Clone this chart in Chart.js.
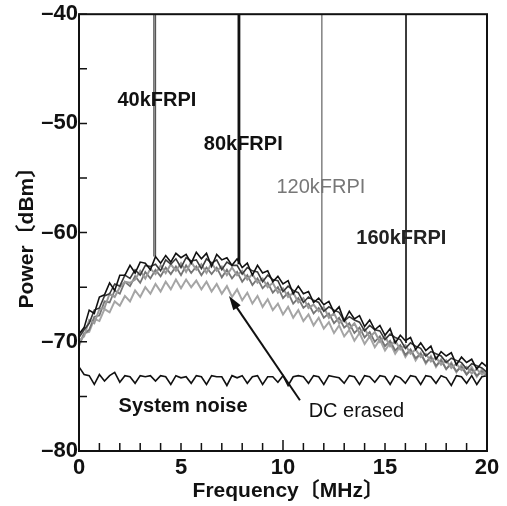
<!DOCTYPE html>
<html>
<head>
<meta charset="utf-8">
<script src="https://cdn.jsdelivr.net/npm/chart.js@4"></script>
<style>
  body { margin: 0; background: #fff; }
  #wrap { width: 507px; height: 506px; }
</style>
</head>
<body>
<div id="wrap"><canvas id="spectrumChart" width="507" height="506"></canvas></div>
<script>
// FREQUENCY AXIS (MHz)
const freq = [
  0, 0.25, 0.5, 0.75, 1, 1.25, 1.5, 1.75, 2, 2.25, 2.5, 2.75, 3, 3.25, 3.5, 3.75,
  4, 4.25, 4.5, 4.75, 5, 5.25, 5.5, 5.75, 6, 6.25, 6.5, 6.75, 7, 7.25, 7.5, 7.75,
  8, 8.25, 8.5, 8.75, 9, 9.25, 9.5, 9.75, 10, 10.25, 10.5, 10.75, 11, 11.25, 11.5, 11.75,
  12, 12.25, 12.5, 12.75, 13, 13.25, 13.5, 13.75, 14, 14.25, 14.5, 14.75, 15, 15.25, 15.5, 15.75,
  16, 16.25, 16.5, 16.75, 17, 17.25, 17.5, 17.75, 18, 18.25, 18.5, 18.75, 19, 19.25, 19.5, 19.75, 20
];

// POWER (dBm)
const p40k = [
  -69.3, -68.7, -67.1, -67.4, -65.9, -65.7, -64.6, -65.3, -63.9, -63.9, -63.0, -63.7, -62.7, -62.8, -63.4, -62.2,
  -62.8, -62.1, -62.7, -61.9, -62.3, -62.0, -62.8, -61.8, -62.4, -61.9, -63.1, -62.0, -62.5, -62.3, -63.0, -62.4,
  -63.2, -62.8, -63.9, -63.0, -63.7, -63.5, -64.5, -64.0, -64.7, -64.4, -65.6, -64.9, -65.6, -65.4, -66.4, -66.0,
  -66.6, -66.3, -67.3, -66.8, -68.1, -67.2, -67.9, -67.6, -68.6, -68.0, -68.9, -68.5, -69.4, -68.8, -70.1, -69.4,
  -69.9, -69.6, -70.7, -70.1, -70.8, -70.4, -71.6, -70.9, -71.3, -71.0, -72.1, -71.4, -71.9, -71.6, -72.5, -71.9, -72.3
];
const p80k = [
  -69.6, -68.9, -68.3, -67.1, -66.9, -65.8, -65.6, -64.7, -64.9, -63.9, -64.2, -63.4, -63.9, -63.0, -63.1, -62.9,
  -63.5, -62.5, -62.9, -62.4, -63.2, -62.3, -62.6, -62.5, -63.3, -62.4, -62.8, -62.5, -63.4, -62.7, -63.0, -63.0,
  -63.8, -63.2, -63.5, -63.6, -64.5, -63.9, -64.3, -64.4, -65.4, -64.9, -65.3, -65.5, -66.4, -65.9, -66.2, -66.4,
  -67.2, -66.8, -67.1, -67.3, -68.1, -67.7, -68.0, -68.2, -69.0, -68.5, -68.9, -69.0, -69.8, -69.3, -69.6, -69.8,
  -70.6, -70.1, -70.4, -70.6, -71.3, -70.9, -71.1, -71.3, -71.9, -71.5, -71.7, -71.9, -72.5, -72.0, -72.2, -72.4, -72.8
];
const p120k = [
  -69.9, -69.5, -68.0, -68.3, -67.0, -66.9, -65.6, -65.9, -65.0, -64.5, -64.6, -64.3, -63.5, -64.2, -63.3, -63.8,
  -63.0, -63.7, -62.9, -63.5, -62.8, -63.6, -62.7, -63.4, -62.9, -63.7, -62.8, -63.5, -63.1, -63.9, -63.2, -63.9,
  -63.5, -64.3, -63.8, -64.6, -64.2, -65.0, -64.6, -65.5, -65.1, -65.9, -65.5, -66.4, -66.0, -66.9, -66.6, -67.2,
  -66.8, -67.8, -67.4, -68.3, -67.9, -68.8, -68.3, -69.2, -68.8, -69.6, -69.1, -70.0, -69.5, -70.4, -69.9, -70.7,
  -70.3, -71.1, -70.7, -71.4, -71.1, -71.8, -71.4, -72.1, -71.7, -72.4, -72.0, -72.6, -72.3, -72.9, -72.5, -73.0, -72.7
];
const p160k = [
  -70.2, -69.3, -68.9, -67.7, -67.6, -66.3, -66.4, -65.3, -65.6, -64.5, -64.9, -64.0, -64.6, -63.6, -64.2, -63.4,
  -64.0, -63.2, -63.8, -63.1, -63.9, -63.0, -63.7, -63.1, -63.9, -63.2, -63.8, -63.2, -64.1, -63.4, -64.2, -63.6,
  -64.5, -63.9, -64.8, -64.2, -65.1, -64.6, -65.5, -65.0, -66.0, -65.5, -66.5, -66.0, -66.9, -66.5, -67.4, -66.9,
  -67.8, -67.4, -68.3, -67.8, -68.7, -68.3, -69.2, -68.7, -69.6, -69.1, -70.0, -69.5, -70.4, -69.9, -70.8, -70.3,
  -71.2, -70.7, -71.5, -71.1, -71.9, -71.4, -72.2, -71.7, -72.5, -72.0, -72.7, -72.3, -73.0, -72.5, -73.1, -72.7, -73.1
];
const pDCErased = [
  -70.4, -69.2, -69.1, -67.9, -68.1, -67.0, -67.3, -66.3, -66.7, -65.8, -66.3, -65.3, -65.9, -65.0, -65.6, -64.7,
  -65.4, -64.5, -65.2, -64.3, -65.1, -64.3, -65.0, -64.4, -65.2, -64.5, -65.4, -64.7, -65.6, -64.9, -65.9, -65.2,
  -66.2, -65.5, -66.5, -65.8, -66.8, -66.1, -67.1, -66.5, -67.5, -66.8, -67.8, -67.1, -68.1, -67.5, -68.5, -67.8,
  -68.8, -68.2, -69.2, -68.5, -69.5, -68.9, -69.9, -69.2, -70.2, -69.5, -70.5, -69.8, -70.8, -70.1, -71.1, -70.4,
  -71.4, -70.7, -71.7, -71.0, -72.0, -71.3, -72.3, -71.6, -72.5, -71.9, -72.8, -72.1, -73.0, -72.3, -73.2, -72.5, -73.1
];
const pSystemNoise = [
  -72.3, -73.0, -73.1, -73.9, -73.0, -73.6, -73.1, -72.8, -73.7, -73.1, -73.2, -73.8, -73.1, -73.2, -73.1, -73.6,
  -73.1, -73.2, -73.9, -73.1, -73.3, -73.2, -73.8, -73.1, -73.2, -73.9, -73.1, -73.2, -73.2, -74.0, -73.1, -73.3,
  -73.1, -73.8, -73.2, -73.1, -73.9, -73.2, -73.2, -73.7, -73.1, -74.0, -73.2, -73.1, -73.2, -73.8, -73.1, -73.2,
  -73.9, -73.1, -73.2, -73.3, -73.8, -73.1, -73.2, -73.9, -73.1, -73.2, -73.7, -73.1, -73.2, -73.9, -73.1, -73.3,
  -73.8, -73.1, -73.2, -73.9, -73.1, -73.2, -73.8, -73.1, -73.3, -74.0, -73.1, -73.2, -73.8, -73.1, -73.9, -73.2, -73.1
];

// FRPI SPIKES: frequency (MHz), foot level (dBm)
const spikeFreq = [3.71, 7.84, 11.9, 16.03];
const spikeBase = [-62.2, -62.9, -66.4, -70.1];
const spikeTop = -40;

// AXIS TICKS
const xTicks = [0, 5, 10, 15, 20];
const yTicks = [-80, -70, -60, -50, -40];

// look of each trace
const curveStyles = [
  { label: "40kFRPI", data: p40k, color: "#111111", width: 1.6 },
  { label: "80kFRPI", data: p80k, color: "#3a3a3a", width: 1.6 },
  { label: "120kFRPI", data: p120k, color: "#9a9a9a", width: 2 },
  { label: "160kFRPI", data: p160k, color: "#757575", width: 1.8 },
  { label: "DC erased", data: pDCErased, color: "#a5a5a5", width: 2 },
  { label: "System noise", data: pSystemNoise, color: "#111111", width: 1.6 }
];
const spikeStyles = [
  { half: 0.04, color: "#555555", width: 1.3 },
  { half: 0.03, color: "#111111", width: 1.6 },
  { half: 0.01, color: "#8a8a8a", width: 1.6 },
  { half: 0.01, color: "#333333", width: 1.5 }
];

// text and arrow drawn on top (data coordinates)
const notes = [
  { text: "40kFRPI", x: 3.82, y: -47.9, bold: true, color: "#111" },
  { text: "80kFRPI", x: 8.05, y: -51.9, bold: true, color: "#111" },
  { text: "120kFRPI", x: 11.86, y: -55.9, bold: false, color: "#777" },
  { text: "160kFRPI", x: 15.8, y: -60.5, bold: true, color: "#222" },
  { text: "System noise", x: 5.1, y: -75.9, bold: true, color: "#111" },
  { text: "DC erased", x: 13.6, y: -76.4, bold: false, color: "#111" }
];
const arrow = { fromX: 10.83, fromY: -75.35, toX: 7.35, toY: -65.8 };

const FONT = "'Liberation Sans', Arial, 'Noto Sans CJK JP', sans-serif";

const datasets = [];
curveStyles.forEach(function (c) {
  datasets.push({
    label: c.label,
    data: freq.map(function (f, i) { return { x: f, y: c.data[i] }; }),
    borderColor: c.color,
    borderWidth: c.width,
    pointRadius: 0,
    tension: 0,
    fill: false
  });
});
spikeFreq.forEach(function (f, i) {
  const s = spikeStyles[i];
  datasets.push({
    label: "spike " + i,
    data: [
      { x: f - s.half, y: spikeBase[i] },
      { x: f - s.half, y: spikeTop },
      { x: f + s.half, y: spikeTop },
      { x: f + s.half, y: spikeBase[i] }
    ],
    borderColor: s.color,
    borderWidth: s.width,
    pointRadius: 0,
    tension: 0,
    fill: false
  });
});

// frame, inward ticks, labels and arrow
const decorPlugin = {
  id: "decor",
  afterDatasetsDraw: function (chart) {
    const ctx = chart.ctx;
    const a = chart.chartArea;
    const xs = chart.scales.x;
    const ys = chart.scales.y;
    ctx.save();
    ctx.strokeStyle = "#111";
    ctx.lineWidth = 2;
    ctx.strokeRect(a.left, a.top, a.right - a.left, a.bottom - a.top);

    ctx.lineWidth = 1.5;
    ctx.beginPath();
    for (let f = 0; f <= 20; f++) {
      const px = xs.getPixelForValue(f);
      const len = (f % 10 === 0) ? 11 : 8;
      ctx.moveTo(px, a.bottom);
      ctx.lineTo(px, a.bottom - len);
    }
    for (let v = -80; v <= -40; v += 5) {
      const py = ys.getPixelForValue(v);
      ctx.moveTo(a.left, py);
      ctx.lineTo(a.left + 8, py);
    }
    ctx.stroke();

    ctx.textAlign = "center";
    ctx.textBaseline = "middle";
    notes.forEach(function (n) {
      ctx.font = (n.bold ? "bold " : "") + "20px " + FONT;
      ctx.fillStyle = n.color;
      ctx.fillText(n.text, xs.getPixelForValue(n.x), ys.getPixelForValue(n.y));
    });

    const x1 = xs.getPixelForValue(arrow.fromX), y1 = ys.getPixelForValue(arrow.fromY);
    const x2 = xs.getPixelForValue(arrow.toX), y2 = ys.getPixelForValue(arrow.toY);
    const ang = Math.atan2(y2 - y1, x2 - x1);
    const head = 15;
    ctx.strokeStyle = "#111";
    ctx.fillStyle = "#111";
    ctx.lineWidth = 2;
    ctx.beginPath();
    ctx.moveTo(x1, y1);
    ctx.lineTo(x2 - Math.cos(ang) * head * 0.8, y2 - Math.sin(ang) * head * 0.8);
    ctx.stroke();
    ctx.beginPath();
    ctx.moveTo(x2, y2);
    ctx.lineTo(x2 - head * Math.cos(ang - 0.3), y2 - head * Math.sin(ang - 0.3));
    ctx.lineTo(x2 - head * Math.cos(ang + 0.3), y2 - head * Math.sin(ang + 0.3));
    ctx.closePath();
    ctx.fill();
    ctx.restore();
  }
};

document.addEventListener("DOMContentLoaded", function () {
  const ctx = document.getElementById("spectrumChart").getContext("2d");

  new Chart(ctx, {
    type: "line",
    data: { datasets: datasets },
    options: {
      responsive: false,
      animation: false,
      layout: { padding: { top: 12, right: 20, left: 0, bottom: 0 } },
      plugins: {
        legend: { display: false },
        tooltip: { enabled: false }
      },
      scales: {
        x: {
          type: "linear",
          min: 0,
          max: 20,
          afterBuildTicks: function (scale) {
            scale.ticks = xTicks.map(function (v) { return { value: v }; });
          },
          afterFit: function (scale) { scale.height = 55; },
          grid: { display: false, drawTicks: false },
          border: { display: false },
          ticks: {
            padding: 4,
            color: "#111",
            font: { family: FONT, size: 22, weight: "bold" }
          },
          title: {
            display: true,
            text: "\u2002Frequency〔MHz〕",
            color: "#111",
            font: { family: FONT, size: 21, weight: "bold" },
            padding: { top: 0, bottom: 2 }
          }
        },
        y: {
          min: -80,
          max: -40,
          afterBuildTicks: function (scale) {
            scale.ticks = yTicks.map(function (v) { return { value: v }; });
          },
          afterFit: function (scale) { scale.width = 79; },
          grid: { display: false, drawTicks: false },
          border: { display: false },
          ticks: {
            padding: 1,
            color: "#111",
            font: { family: FONT, size: 22, weight: "bold" },
            callback: function (v) { return "\u2013" + Math.abs(v); }
          },
          title: {
            display: true,
            text: "Power〔dBm〕",
            color: "#111",
            font: { family: FONT, size: 21, weight: "bold" },
            padding: { top: 15, bottom: 0 }
          }
        }
      }
    },
    plugins: [decorPlugin]
  });
});
</script>
</body>
</html>
